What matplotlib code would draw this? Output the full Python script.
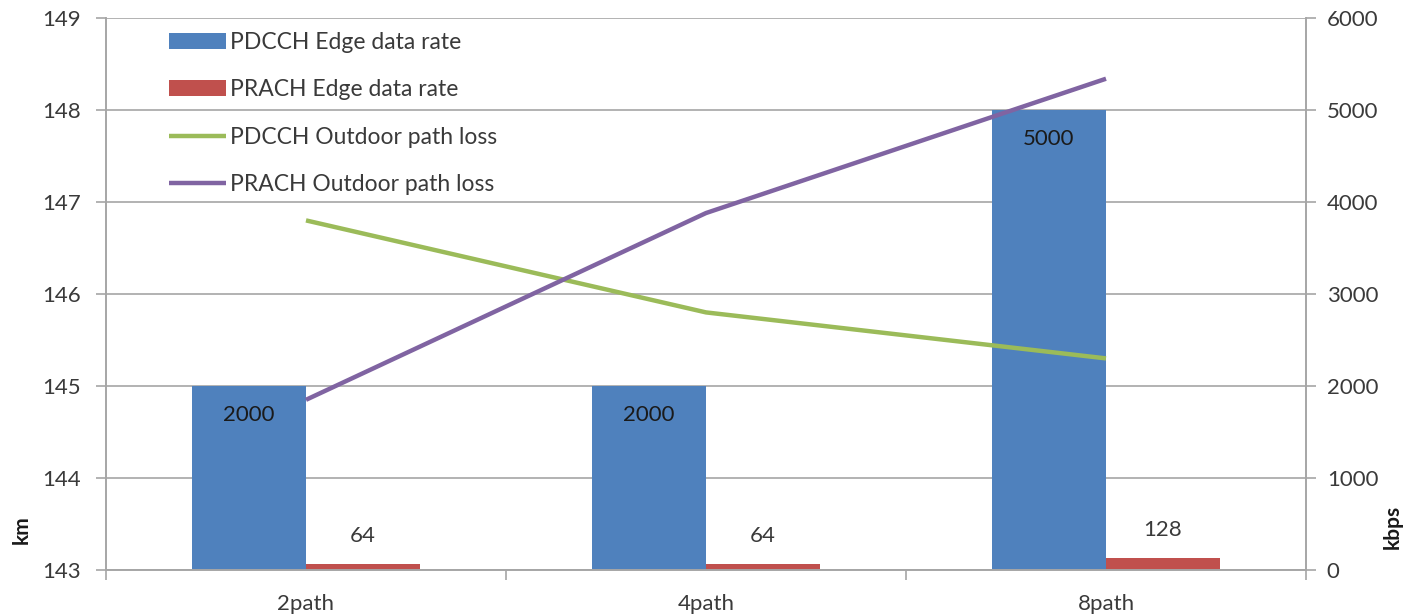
import matplotlib
matplotlib.use("Agg")
import matplotlib.pyplot as plt
import numpy as np

categories = ["2path", "4path", "8path"]
pdcch_rate = [2000, 2000, 5000]          # kbps
prach_rate = [64, 64, 128]               # kbps
pdcch_loss = [146.8, 145.8, 145.3]       # km axis
prach_loss = [144.85, 146.88, 148.34]    # km axis

km_ticks = [143, 144, 145, 146, 147, 148, 149]
kbps_ticks = [0, 1000, 2000, 3000, 4000, 5000, 6000]

C_BLUE = "#4F81BD"
C_RED = "#C0504D"
C_GREEN = "#9BBB59"
C_PURPLE = "#8064A2"
C_GRID = "#A6A6A6"
C_TEXT = "#3a3a3a"

plt.rcParams["font.family"] = ["Lato", "DejaVu Sans"]

fig = plt.figure(figsize=(14.07, 6.14), dpi=100)
ax = fig.add_axes([106 / 1407, 1 - 570 / 614, 1200 / 1407, 552 / 614])
ax2 = ax.twinx()

x = np.arange(len(categories))
bw = 0.285

# bars on the kbps scale
b1 = ax2.bar(x - bw / 2, pdcch_rate, bw, color=C_BLUE, zorder=2,
             label="PDCCH Edge data rate")
b2 = ax2.bar(x + bw / 2, prach_rate, bw, color=C_RED, zorder=2,
             label="PRACH Edge data rate")
ax2.set_ylim(0, 6000)
ax2.set_yticks(kbps_ticks)
ax2.yaxis.grid(True, color=C_GRID, linewidth=1.2, zorder=0)
ax2.set_axisbelow(True)

for rect, v in zip(b1, pdcch_rate):
    ax2.annotate(f"{v}", (rect.get_x() + rect.get_width() / 2, v),
                 xytext=(0, -21), textcoords="offset points",
                 ha="center", va="center", fontsize=16, color="#1a1a1a")
for rect, v in zip(b2, prach_rate):
    ax2.annotate(f"{v}", (rect.get_x() + rect.get_width() / 2, v),
                 xytext=(0, 20), textcoords="offset points",
                 ha="center", va="center", fontsize=16, color=C_TEXT)

# path-loss lines on the km scale
l1, = ax.plot(x, pdcch_loss, color=C_GREEN, linewidth=3.2,
              solid_capstyle="butt", label="PDCCH Outdoor path loss")
l2, = ax.plot(x, prach_loss, color=C_PURPLE, linewidth=3.2,
              solid_capstyle="butt", label="PRACH Outdoor path loss")
ax.set_ylim(143, 149)
ax.set_yticks(km_ticks)
ax.set_xlim(-0.5, 2.5)

ax.set_zorder(ax2.get_zorder() + 1)
ax.patch.set_visible(False)

# category axis: boundary ticks, centered labels
ax.set_xticks([-0.5, 0.5, 1.5, 2.5])
ax.set_xticklabels([])
ax.set_xticks(x, minor=True)
ax.set_xticklabels(categories, minor=True)
ax.tick_params(axis="x", which="major", length=7, color=C_GRID, width=1.2)
ax.tick_params(axis="x", which="minor", length=0, pad=17, labelsize=16,
               labelcolor=C_TEXT)
ax.tick_params(axis="y", length=7, color=C_GRID, width=1.2, pad=11,
               labelsize=16, labelcolor=C_TEXT)
ax2.tick_params(axis="y", length=7, color=C_GRID, width=1.2, pad=8,
                labelsize=16, labelcolor=C_TEXT)

for a in (ax, ax2):
    a.spines["top"].set_visible(False)
    for s in ("left", "right", "bottom"):
        a.spines[s].set_color(C_GRID)
        a.spines[s].set_linewidth(1.2)

fig.text(22 / 1407, 1 - 530 / 614, "km", rotation=90, ha="center",
         va="center", fontsize=15, fontweight="bold", color="#1a1a1a")
fig.text(1393 / 1407, 1 - 527 / 614, "kbps", rotation=90, ha="center",
         va="center", fontsize=15, fontweight="bold", color="#1a1a1a")

ax.legend([b1, b2, l1, l2],
          [b1.get_label(), b2.get_label(), l1.get_label(), l2.get_label()],
          loc="upper left", bbox_to_anchor=(0.045, 0.992), frameon=False,
          borderaxespad=0, fontsize=16.5, labelspacing=1.16,
          handlelength=2.5, handletextpad=0.15, labelcolor=C_TEXT)

fig.savefig("out.png", dpi=100)
